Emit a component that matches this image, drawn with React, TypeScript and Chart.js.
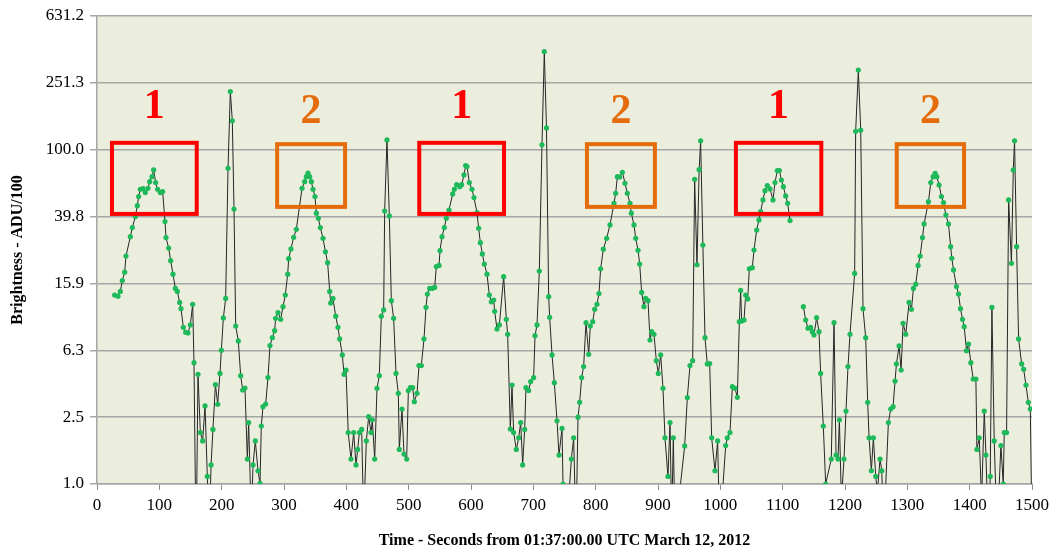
import React, { useEffect, useRef } from "react";
import { Chart, registerables } from "chart.js";

Chart.register(...registerables);

// Time in seconds from 01:37:00.00 UTC
const timeSec = [
  28.3, 33.7, 37.4, 40.6, 44.4, 46.5, 53.5, 56.7, 61.5, 64.7,
  66.8, 69.5, 73.8, 77.5, 81.8, 84.5, 88.2, 90.9, 94.1, 97.3,
  101.6, 105.3, 109.1, 110.7, 115, 118.2, 121.9, 125.7, 128.9, 132.6,
  134.8, 138.5, 142.2, 146, 149.7, 153.5, 155.6, 159, 162, 165.8,
  169.5, 173.3, 177, 180, 183, 186, 190, 193.6, 197.3, 199.5,
  202.7, 206.4, 210.2, 213.9, 217.1, 219.8, 222.5, 226.7, 230.5, 233.7,
  237.4, 241.2, 243.3, 247.6, 250.3, 254, 258.3, 261.5, 263.6, 266.3,
  270.6, 274.3, 277.5, 281.3, 285, 286.6, 290.4, 294.7, 298.4, 302.1,
  305.9, 307.5, 311.2, 315.5, 319.8, 328.9, 333.2, 335.8, 338.5, 341.2,
  343.9, 346.5, 349.7, 351.9, 355.1, 358.3, 362.6, 366.5, 370, 373.3,
  374.9, 378.6, 382.9, 386.6, 389.3, 393.6, 396.3, 399.5, 403, 407.5,
  411.8, 415.5, 418.2, 420.9, 424.6, 427.8, 432.1, 435.8, 439.6, 441.7,
  445.5, 449.2, 452.9, 456.1, 459.9, 461.5, 465.2, 469, 472.2, 475.9,
  479.7, 483.4, 485, 489.3, 492.5, 496.8, 499.5, 502.7, 506.4, 509.1,
  513.4, 516.6, 520.3, 524.6, 527.8, 530, 533.7, 537.4, 541.7, 544.4,
  548.7, 550.3, 553.5, 557.2, 560.4, 564.7, 570.6, 573.3, 577, 581.8,
  585, 588.8, 591.4, 593.6, 597.3, 601.6, 604.8, 609.6, 612.3, 615,
  618.2, 621.4, 625.7, 629.4, 632.6, 636.4, 638, 641.7, 645.5, 652.4,
  656.7, 658.8, 663.1, 665.8, 668.4, 672.7, 676.5, 679.7, 682.9, 686.1,
  688.2, 692.5, 695.7, 700.5, 702.7, 705.9, 709.6, 713.9, 717.6, 721.1,
  724.6, 726.2, 730, 733.7, 738, 741.2, 746, 747.6, 753, 761,
  764.7, 768.4, 771.7, 774.3, 777.5, 780.7, 784.5, 788.8, 791.4, 795.2,
  798.4, 802.1, 805.3, 808, 812.3, 817.6, 823, 829.4, 832.1, 834.8,
  838.5, 842.8, 847.1, 850.8, 855.1, 857.2, 861.5, 864.2, 868, 870.6,
  873.8, 877.5, 880.2, 884, 887.2, 889.8, 893.6, 897.3, 900.5, 904.3,
  908, 911.2, 916, 919.3, 921.9, 924.6, 927.3, 942.8, 947.1, 951.3,
  955.6, 958.8, 962.5, 966, 968.4, 972, 975.4, 979.1, 982.9, 986.1,
  991.4, 995.7, 998.9, 1008.6, 1011.2, 1015.5, 1019.3, 1023.5, 1027.3, 1030.5,
  1032.6, 1034.2, 1038, 1040.6, 1043.9, 1046.5, 1051.3, 1054, 1058.3, 1062,
  1064.7, 1068.4, 1071.7, 1075.4, 1079.7, 1084.5, 1087.7, 1091.4, 1094.7, 1097.9,
  1101.1, 1104.8, 1108, 1111.8, 1120, 1133.2, 1136.9, 1140.6, 1144.9, 1147.6,
  1150.3, 1154.5, 1158.3, 1160.9, 1165.2, 1169, 1178, 1182.4, 1185.6, 1188.8,
  1191, 1194.2, 1198.4, 1201.6, 1204.8, 1208, 1215.5, 1217.1, 1221.4, 1225.2,
  1228.9, 1233.2, 1236.4, 1238.6, 1242.3, 1245.5, 1249.3, 1252, 1256.2, 1259,
  1262, 1269.6, 1273.4, 1277.1, 1280.3, 1282.5, 1286.8, 1290, 1293.2, 1297.5,
  1302.8, 1306.6, 1309.8, 1313.5, 1317.3, 1320.5, 1324.3, 1326.9, 1333.9, 1337.6,
  1341.4, 1344.6, 1347.3, 1351, 1354.8, 1358, 1361.8, 1366, 1369.5, 1371.4,
  1374.1, 1378.9, 1382.1, 1385.3, 1388.5, 1391.2, 1395, 1398.2, 1401.9, 1405.7,
  1410, 1411.6, 1415.4, 1419.1, 1423.4, 1426.1, 1430, 1433, 1435.7, 1439.4,
  1444, 1450.1, 1453.9, 1455.5, 1459.2, 1462.5, 1467, 1470, 1472, 1475.3,
  1478.5, 1483.4, 1486.6, 1490.3, 1494.1, 1497.3, 1500,
];

// Brightness in ADU/100 (null = no data)
const brightness = [
  13.5, 13.3, 14.2, 16.5, 18.5, 23.1, 30.2, 34.2, 39.8, 46.3,
  52.5, 58.0, 58.5, 55.4, 58.8, 64.4, 69.0, 75.7, 63.6, 58.0,
  55.4, 56.2, 37.2, 29.8, 25.8, 21.7, 18.0, 14.8, 14.2, 12.2,
  11.2, 8.66, 8.09, 8.01, 8.95, 11.9, 5.32, 0.4, 4.53, 2.03,
  1.81, 2.93, 1.11, 0.5, 1.30, 2.12, 3.93, 3.0, 4.59, 6.31,
  9.85, 12.9, 77.5, 223, 149, 44.2, 8.82, 7.18, 4.45, 3.65,
  3.75, 1.41, 2.33, 0.6, 1.30, 1.81, 1.20, 1.01, 2.22, 2.90,
  3.01, 4.33, 6.73, 7.51, 8.27, 9.80, 10.6, 9.67, 11.5, 13.5,
  18.0, 22.3, 25.5, 29.9, 33.4, 58.8, 64.4, 69.0, 72.6, 69.0,
  64.4, 58.0, 52.5, 41.7, 38.9, 34.2, 29.5, 24.5, 21.1, 14.2,
  12.1, 12.9, 10.1, 8.66, 7.38, 5.92, 4.53, 4.81, 2.03, 1.41,
  2.03, 1.30, 1.61, 2.03, 2.12, 0.6, 1.81, 2.53, 2.03, 2.42,
  1.41, 3.74, 4.45, 10.1, 11.0, 43.0, 114.5, 40.2, 12.5, 9.80,
  4.59, 3.49, 1.61, 2.81, 1.51, 1.41, 3.62, 3.77, 3.77, 3.11,
  3.49, 5.11, 5.11, 7.38, 11.4, 13.7, 14.8, 14.8, 15.0, 20.0,
  20.3, 24.9, 30.2, 34.2, 38.9, 43.6, 54.4, 58.0, 61.8, 60.1,
  61.8, 70.7, 80.4, 79.3, 63.6, 58.0, 51.7, 42.1, 33.9, 27.8,
  23.8, 20.7, 18.0, 13.5, 12.3, 12.6, 10.8, 8.47, 8.95, 17.4,
  9.67, 7.87, 2.13, 3.91, 2.03, 1.61, 1.89, 2.33, 1.30, 2.12,
  3.77, 3.62, 4.10, 4.33, 7.72, 8.95, 18.8, 107, 387, 135,
  13.2, 9.94, 5.92, 4.04, 2.39, 1.49, 2.15, 1.0, 0.5, 1.41,
  1.89, 0.5, 2.51, 3.08, 4.33, 5.04, 9.23, 5.97, 8.82, 9.36,
  11.1, 11.9, 13.8, 19.4, 25.4, 29.5, 35.5, 47.8, 54.9, 69.0,
  68.7, 73.3, 63.0, 54.9, 47.8, 41.7, 35.5, 29.5, 25.0, 20.7,
  14.0, 11.5, 12.9, 12.5, 7.27, 8.16, 7.87, 5.47, 4.59, 5.92,
  3.74, 1.89, 1.11, 2.33, 0.6, 1.89, 0.5, 1.69, 3.29, 5.11,
  5.47, 66.6, 20.5, 76, 113, 26.9, 7.51, 5.23, 5.26, 1.89,
  1.20, 1.81, 0.5, 1.70, 1.89, 2.03, 3.82, 3.74, 3.30, 9.36,
  14.4, 9.45, 9.58, 13.5, 12.8, 19.4, 19.7, 25.1, 33.1, 38.0,
  42.6, 50.1, 56.9, 61.0, 58.3, 50.1, 63.6, 75.0, 75.0, 65.9,
  60.1, 52.9, 47.8, 37.7, null, 11.5, 9.58, 8.55, 8.66, 8.16,
  7.79, 9.89, 8.16, 4.59, 2.22, 1.0, 1.41, 9.23, 1.49, 1.41,
  2.42, 0.8, 1.41, 2.73, 5.04, 7.87, 18.2, 129, 300, 131,
  11.2, 7.51, 3.08, 1.89, 1.20, 1.89, 1.11, 0.9, 1.41, 1.20,
  0.5, 2.33, 2.81, 2.90, 4.13, 5.23, 6.70, 4.81, 9.16, 7.87,
  12.2, 11.1, 14.8, 15.7, 20.3, 23.1, 29.8, 36.0, 48.9, 63.6,
  69.0, 72.3, 69.0, 61.5, 52.5, 48.3, 40.7, 36.0, 26.3, 22.4,
  19.1, 15.2, 13.7, 11.2, 9.67, 8.74, 6.28, 6.88, 5.32, 4.25,
  4.25, 1.61, 1.89, 0.8, 2.73, 1.49, 0.5, 1.11, 11.4, 1.81,
  0.5, 1.70, 1.0, 2.03, 2.03, 50.1, 20.9, 75.7, 113, 26.3,
  7.38, 5.23, 4.86, 3.91, 3.08, 2.81, 0.5,
];

const yTickValues = [1, 2.5119, 6.3096, 15.849, 39.811, 100, 251.19, 631.2];
const yTickLabels = ["1.0", "2.5", "6.3", "15.9", "39.8", "100.0", "251.3", "631.2"];
const xTitle = "Time - Seconds from 01:37:00.00 UTC March 12, 2012";
const yTitle = "Brightness - ADU/100";

// Highlight boxes (data coordinates)
const boxLabels = ["1", "2", "1", "2", "1", "2"];
const boxStart = [24, 289, 517, 786, 1025, 1283];
const boxEnd = [160, 398, 653, 895, 1162, 1391];
const boxTop = [110, 108, 110, 108, 110, 108];
const boxBottom = [41.3, 45.5, 41.3, 45.5, 41.3, 45.5];
const boxLabelLevel = [179, 167, 179, 167, 179, 167];
const boxColors = ["#ff0000", "#e46c0a", "#ff0000", "#e46c0a", "#ff0000", "#e46c0a"];

const SERIF = '"Liberation Serif", "Times New Roman", serif';

const decorPlugin = {
  id: "decor",
  beforeDraw(chart: any) {
    const { ctx, chartArea } = chart;
    ctx.save();
    ctx.fillStyle = "#ebeedd";
    ctx.fillRect(chartArea.left, chartArea.top, chartArea.right - chartArea.left, chartArea.bottom - chartArea.top);
    ctx.restore();
  },
  afterDatasetsDraw(chart: any) {
    const { ctx } = chart;
    const xs = chart.scales.x;
    const ys = chart.scales.y;
    ctx.save();
    boxLabels.forEach((lab, i) => {
      const x0 = xs.getPixelForValue(boxStart[i]);
      const x1 = xs.getPixelForValue(boxEnd[i]);
      const y0 = ys.getPixelForValue(boxTop[i]);
      const y1 = ys.getPixelForValue(boxBottom[i]);
      ctx.strokeStyle = boxColors[i];
      ctx.lineWidth = 4;
      ctx.strokeRect(x0, y0, x1 - x0, y1 - y0);
      ctx.fillStyle = boxColors[i];
      ctx.font = `bold 42px ${SERIF}`;
      ctx.textAlign = "center";
      ctx.textBaseline = "middle";
      ctx.fillText(lab, (x0 + x1) / 2, ys.getPixelForValue(boxLabelLevel[i]));
    });
    ctx.restore();
  },
};

export default function App() {
  const canvasRef = useRef<HTMLCanvasElement | null>(null);

  useEffect(() => {
    const canvas = canvasRef.current;
    if (!canvas) return;
    const points = timeSec.map((t, i) => ({ x: t, y: brightness[i] }));
    const chart = new Chart(canvas, {
      type: "line",
      data: {
        datasets: [
          {
            data: points as any,
            borderColor: "#262626",
            borderWidth: 1,
            pointRadius: 2.6,
            pointBackgroundColor: "#1db95a",
            pointBorderWidth: 0,
            pointHoverRadius: 0,
            spanGaps: false,
            tension: 0,
          },
        ],
      },
      options: {
        animation: false,
        responsive: false,
        events: [],
        layout: { padding: { left: 0, right: 18, top: 16, bottom: 0 } },
        plugins: { legend: { display: false }, tooltip: { enabled: false } },
        scales: {
          x: {
            type: "linear",
            min: 0,
            max: 1500,
            ticks: {
              stepSize: 100,
              callback: (v: any) => String(v),
              color: "#000",
              font: { family: SERIF, size: 17 },
              padding: 5,
              maxRotation: 0,
              autoSkip: false,
            },
            grid: { drawOnChartArea: false, drawTicks: true, tickLength: 6, color: "#8c8c8c", lineWidth: 1 },
            border: { display: true, color: "#a6a6a6", width: 1.5 },
            title: {
              display: true,
              text: xTitle,
              color: "#000",
              font: { family: SERIF, size: 16, weight: "bold" },
              padding: { top: 0, bottom: 3 },
            },
            afterFit: (s: any) => {
              s.height = 69;
              s.paddingLeft = 0;
              s.paddingRight = 0;
            },
          },
          y: {
            type: "logarithmic",
            min: 1,
            max: 631.2,
            afterBuildTicks: (s: any) => {
              s.ticks = yTickValues.map((v) => ({ value: v }));
            },
            ticks: {
              callback: (_v: any, i: number) => yTickLabels[i],
              color: "#000",
              font: { family: SERIF, size: 17 },
              padding: 6,
              autoSkip: false,
            },
            grid: { color: "#a6a6a6", lineWidth: 1.5, tickLength: 7, drawTicks: true },
            border: { display: true, color: "#a6a6a6", width: 1.5 },
            title: {
              display: true,
              text: yTitle,
              color: "#000",
              font: { family: SERIF, size: 16, weight: "bold" },
              padding: { top: 8, bottom: 0 },
            },
            afterFit: (s: any) => {
              s.width = 97;
              s.paddingTop = 0;
              s.paddingBottom = 0;
            },
          },
        },
      } as any,
      plugins: [decorPlugin],
    });
    return () => chart.destroy();
  }, []);

  return (
    <div style={{ position: "fixed", left: 0, top: 0, width: 1050, height: 553, background: "#fff" }}>
      <canvas ref={canvasRef} width={1050} height={553} style={{ display: "block" }} />
    </div>
  );
}
